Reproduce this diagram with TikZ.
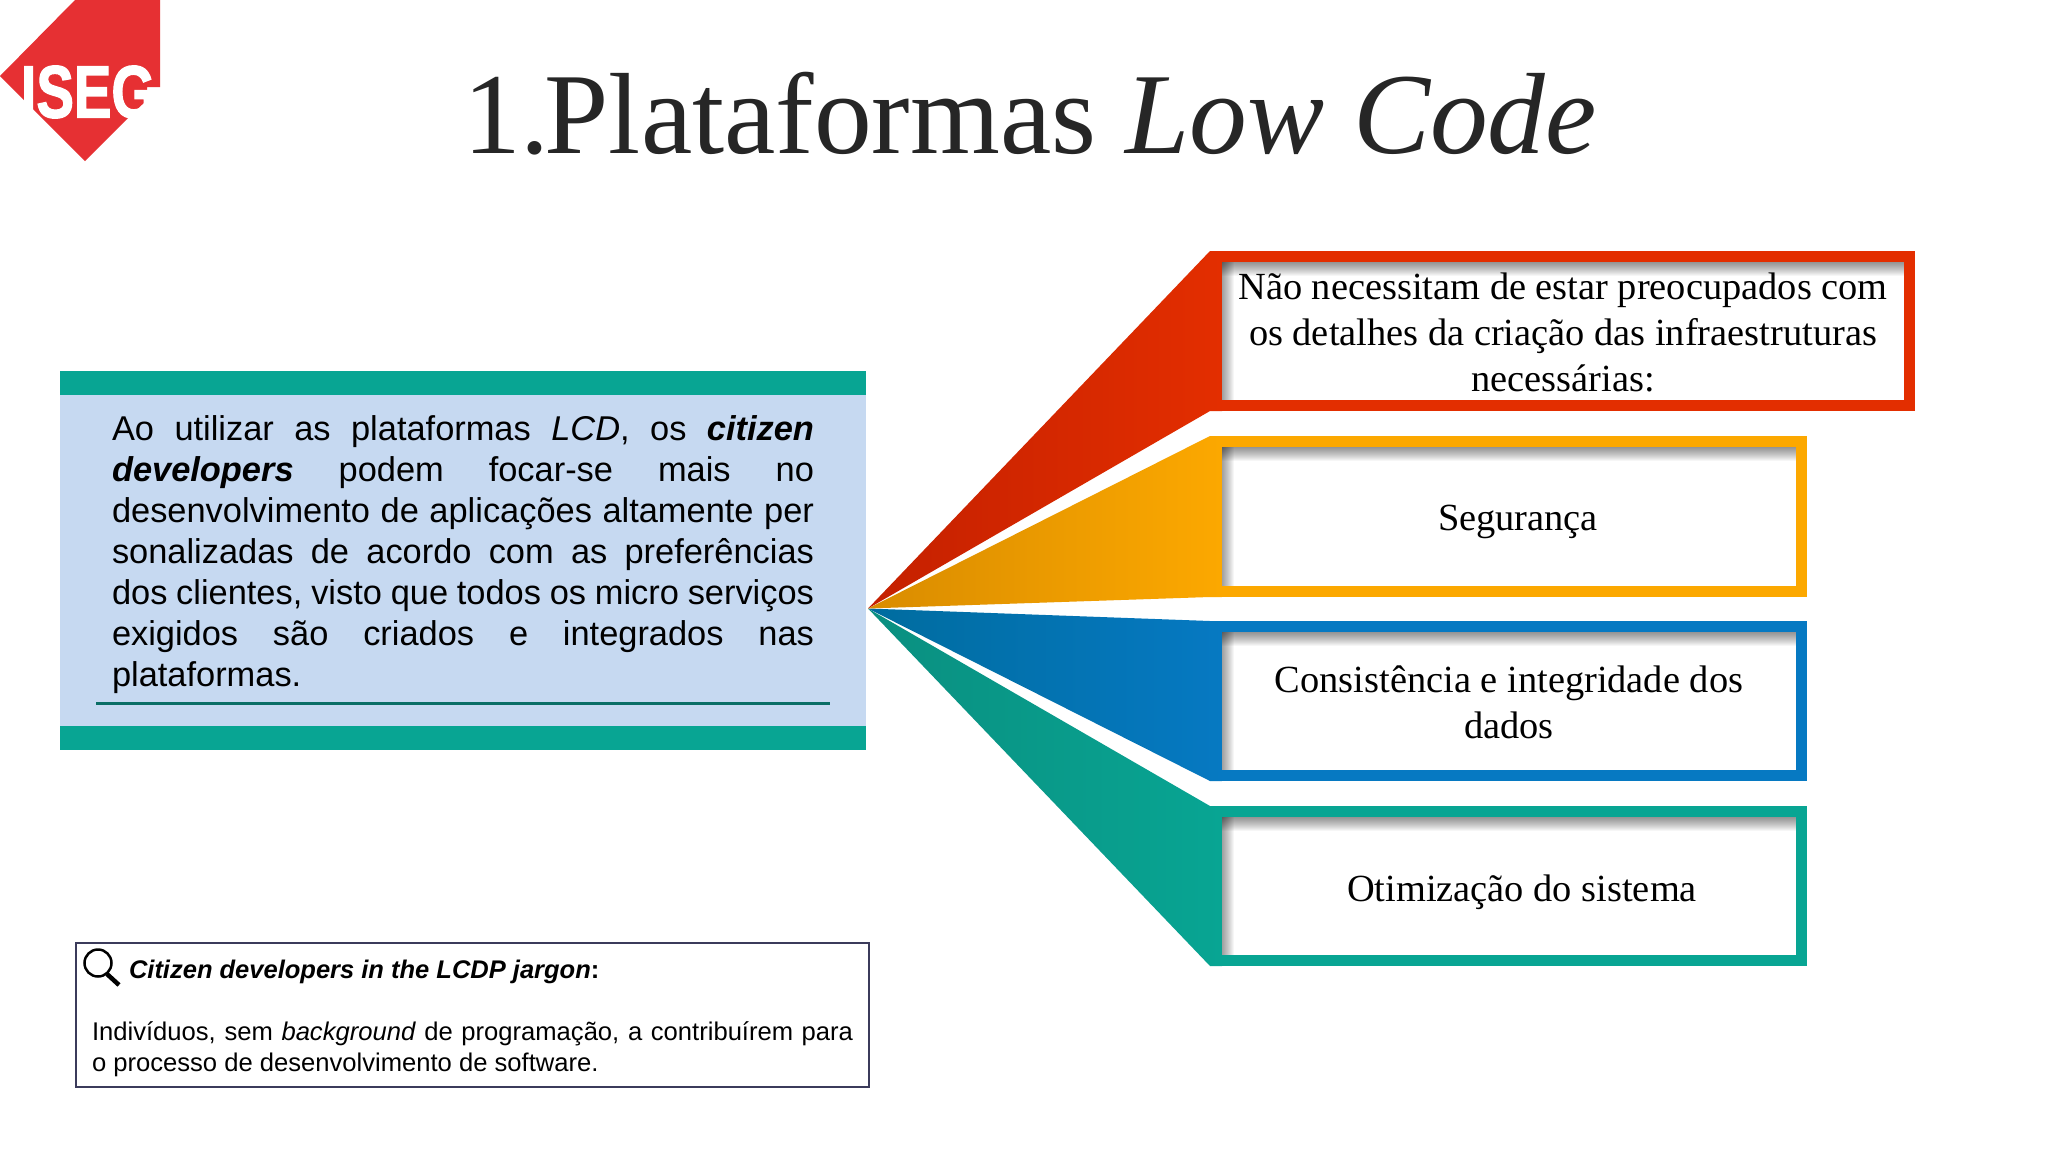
\documentclass[tikz,border=0pt]{standalone}
\usepackage{fontspec}
\setmainfont{Liberation Serif}
\newfontfamily\arialf{Liberation Sans}
\newfontfamily\logof[FakeBold=2]{Liberation Sans}
\usetikzlibrary{calc}
\definecolor{teal1}{HTML}{08A593}
\definecolor{teal2}{HTML}{0A6E66}
\definecolor{teal0}{HTML}{0A8F80}
\definecolor{lblue}{HTML}{C6D9F1}
\definecolor{isegred}{HTML}{E63033}
\definecolor{navy}{HTML}{3B3B5B}
\definecolor{titlec}{HTML}{262626}
\definecolor{red1}{HTML}{E32E00}
\definecolor{red0}{HTML}{C42000}
\definecolor{ora1}{HTML}{FCA800}
\definecolor{ora0}{HTML}{D98C00}
\definecolor{blu1}{HTML}{0679C2}
\definecolor{blu0}{HTML}{006C9F}
\tikzset{
  txt/.style={inner sep=0pt,outer sep=0pt,text=black},
  boxtxt/.style={txt,align=center,font=\fontsize{38.4}{46}\selectfont},
  bodytxt/.style={txt,align=left,font=\arialf\fontsize{34.4}{41}\selectfont},
  smalltxt/.style={txt,align=left,font=\arialf\fontsize{25.6}{31}\selectfont},
}
% #1 name, #2 colour at apex, #3 colour at box, #4 left, #5 top, #6 right, #7 bottom
\newcommand\fanbox[7]{
  \coordinate (#1nw) at (#4,#5);
  \coordinate (#1sw) at (#4,#7);
  \coordinate (#1ne) at (#6,#5);
  \coordinate (#1se) at (#6,#7);
  \fill[#3] (#1nw) rectangle (#1se);
  \shade[left color=#2,right color=#3] (apex) -- (#1nw) -- ($(#1nw)+(12,0)$) -- ($(#1sw)+(12,0)$) -- (#1sw) -- cycle;
  \coordinate (#1a) at ($(#1nw)+(12,11)$);
  \coordinate (#1b) at ($(#1se)+(-11,-11)$);
  \fill[white] (#1a) rectangle (#1b);
  \foreach \k in {1,...,14}{
    \fill[black,opacity=.035] (#1a) rectangle ($(#1a -| #1b)+(0,\k)$);
  }
  \foreach \k in {1,...,12}{
    \fill[black,opacity=.035] (#1a) rectangle ($(#1a |- #1b)+(\k,0)$);
  }
}
\begin{document}
\begin{tikzpicture}[x=1pt,y=-1pt]
\useasboundingbox (0,0) rectangle (2048,1152);
\fill[white] (0,0) rectangle (2048,1152);
% logo
\fill[isegred] (75,0) -- (160,0) -- (160,87) -- (147,87) -- (147,100) -- (128,118) -- (85,161) -- (0,76) -- cycle;
\node[txt,text=white,font=\logof\bfseries\fontsize{74}{74}\selectfont,xscale=.76,anchor=center] (iseg) at (88,92) {ISEG};
% title
\node[txt,text=titlec,font=\fontsize{115.5}{120}\selectfont,anchor=base] (title) at (1030,153) {1.\kern-5pt Plataformas \textit{Low Code}};
% left panel
\coordinate (panelnw) at (60,371);
\coordinate (panelse) at (866,750);
\fill[lblue] (panelnw) rectangle (panelse);
\fill[teal1] (panelnw) rectangle ($(panelse |- panelnw)+(0,23.5)$);
\fill[teal1] ($(panelnw |- panelse)+(0,-24)$) rectangle (panelse);
\node[bodytxt,anchor=center] (body) at (463,554.3) {%
\makebox[702pt][s]{Ao utilizar as plataformas \textit{LCD}, os \textbf{\textit{citizen}}}\\
\makebox[702pt][s]{\textbf{\textit{developers}} podem focar-se mais no}\\
\makebox[702pt][s]{desenvolvimento de aplicações altamente per}\\
\makebox[702pt][s]{sonalizadas de acordo com as preferências}\\
\makebox[702pt][s]{dos clientes, visto que todos os micro serviços}\\
\makebox[702pt][s]{exigidos são criados e integrados nas}\\
\makebox[702pt][l]{plataformas.}};
\coordinate (ul1) at (96,703.5);
\coordinate (ul2) at (830,703.5);
\draw[teal2,line width=3.5pt] (ul1) -- (ul2);
% fan
\coordinate (apex) at (868,608.5);
\fanbox{g}{teal0}{teal1}{1210}{806}{1807}{966}
\fanbox{b}{blu0}{blu1}{1210}{621}{1807}{781}
\fanbox{o}{ora0}{ora1}{1210}{436}{1807}{597}
\fanbox{r}{red0}{red1}{1210}{251}{1915}{411}
\node[boxtxt] (t1) at (1563,332) {Não necessitam de estar preocupados com\\os detalhes da criação das infraestruturas\\necessárias:};
\node[boxtxt] (t2) at (1518,522) {Segurança};
\node[boxtxt] (t3) at (1509,702) {Consistência e integridade dos\\dados};
\node[boxtxt] (t4) at (1522,892) {Otimização do sistema};
% note box
\node[draw=navy,line width=2pt,fill=white,minimum width=793pt,minimum height=143.5pt,inner sep=0pt,outer sep=0pt,anchor=north west] (note) at (76,943) {};
\draw[black,line width=2.5pt] (98,963) circle (13.5);
\coordinate (h1) at (107,974);
\coordinate (h2) at (119,985);
\draw[black,line width=4.5pt] (h1) -- (h2);
\node[txt,font=\arialf\fontsize{25.5}{31}\selectfont\bfseries\itshape,anchor=base west] (nh) at (129,978.5) {Citizen developers in the LCDP jargon\textup{:}};
\node[smalltxt,anchor=north west] (nb) at (92,1022) {%
\makebox[761pt][s]{Indivíduos, sem \textit{background} de programação, a contribuírem para}\\
o processo de desenvolvimento de software.};
\end{tikzpicture}
\end{document}
